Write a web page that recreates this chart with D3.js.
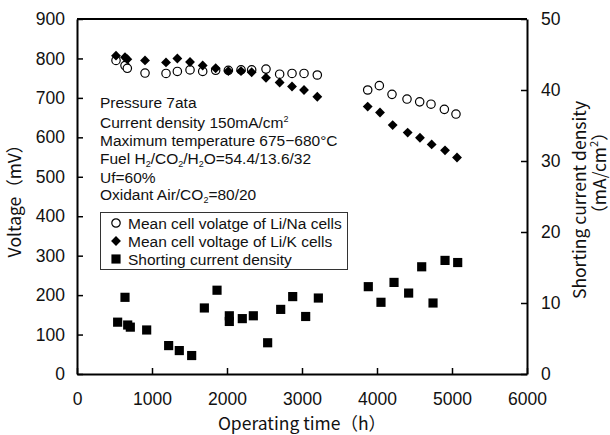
<!DOCTYPE html>
<html>
<head>
<meta charset="utf-8">
<script src="https://cdn.jsdelivr.net/npm/d3@7"></script>
<style>
  html, body { margin: 0; padding: 0; background: #fff; }
  svg { display: block; }
</style>
</head>
<body>
<svg id="chart" width="610" height="435"></svg>
<script>
// Operating time (h) and mean cell voltage (mV) of Li/Na cells
const naTime = [520, 640, 671, 907, 1187, 1338, 1507, 1676, 1849, 2018, 2187, 2329, 2520, 2702, 2867, 3027, 3204,
                3876, 4031, 4200, 4400, 4569, 4720, 4898, 5053];
const naVolt = [795, 782, 775, 763, 762, 767, 771, 767, 770, 770, 771, 771, 773, 760, 762, 762, 758,
                720, 731, 709, 697, 690, 684, 671, 659];

// Operating time (h) and mean cell voltage (mV) of Li/K cells
const kTime = [520, 640, 671, 907, 1187, 1338, 1507, 1676, 1849, 2018, 2187, 2329, 2520, 2702, 2867, 3027, 3204,
               3876, 4040, 4209, 4409, 4573, 4729, 4907, 5067];
const kVolt = [807, 803, 798, 795, 790, 800, 791, 782, 775, 768, 768, 765, 751, 739, 729, 720, 703,
               678, 663, 631, 612, 599, 582, 567, 549];

// Operating time (h) and shorting current density (mA/cm2)
const scTime = [542, 640, 676, 711, 929, 1222, 1364, 1529, 1698, 1867, 2031, 2031, 2204, 2351, 2542, 2716, 2876, 3049, 3218,
                3884, 4053, 4227, 4422, 4596, 4747, 4907, 5076];
const scVal = [7.3, 10.8, 6.9, 6.6, 6.2, 4.0, 3.3, 2.6, 9.3, 11.8, 8.2, 7.4, 7.8, 8.2, 4.4, 9.1, 10.9, 8.1, 10.7,
               12.3, 10.1, 12.9, 11.4, 15.1, 10.0, 16.0, 15.7];

const xTicks = [0, 1000, 2000, 3000, 4000, 5000, 6000];
const yTicks = [0, 100, 200, 300, 400, 500, 600, 700, 800, 900];
const y2Ticks = [0, 10, 20, 30, 40, 50];

const legendItems = [
  { shape: "circle", label: "Mean cell volatge of Li/Na cells" },
  { shape: "diamond", label: "Mean cell voltage of Li/K cells" },
  { shape: "square", label: "Shorting current density" }
];

const svg = d3.select("#chart");
const m = { left: 77, right: 527, top: 19, bottom: 374 };

const x = d3.scaleLinear().domain([0, 6000]).range([m.left, m.right]);
const y = d3.scaleLinear().domain([0, 900]).range([m.bottom, m.top]);
const y2 = d3.scaleLinear().domain([0, 50]).range([m.bottom, m.top]);

const numFont = "'Liberation Sans', Arial, sans-serif";
const jpFont = "'Noto Sans CJK JP', 'Noto Sans', sans-serif";

// Axes with inward ticks
const axisStyle = g => {
  g.selectAll("path.domain").attr("stroke", "#000").attr("stroke-width", 2);
  g.selectAll(".tick line").attr("stroke", "#000").attr("stroke-width", 1.5);
  g.selectAll(".tick text").attr("fill", "#111").style("font-family", numFont).style("font-size", "17.5px");
};

svg.append("g")
  .attr("transform", `translate(0,${m.bottom})`)
  .call(d3.axisBottom(x).tickValues(xTicks).tickFormat(d3.format("d")).tickSizeInner(-6).tickSizeOuter(0).tickPadding(19))
  .call(axisStyle);

svg.append("g")
  .attr("transform", `translate(${m.left},0)`)
  .call(d3.axisLeft(y).tickValues(yTicks).tickFormat(d3.format("d")).tickSizeInner(-6).tickSizeOuter(0).tickPadding(12))
  .call(axisStyle);

svg.append("g")
  .attr("transform", `translate(${m.right},0)`)
  .call(d3.axisRight(y2).tickValues(y2Ticks).tickFormat(d3.format("d")).tickSizeInner(-6).tickSizeOuter(0).tickPadding(14))
  .call(axisStyle);

// Top frame line
svg.append("line")
  .attr("x1", m.left).attr("x2", m.right).attr("y1", m.top).attr("y2", m.top)
  .attr("stroke", "#000").attr("stroke-width", 2);

// Axis titles
svg.append("text")
  .attr("transform", `translate(16,${(m.top + m.bottom) / 2}) rotate(-90)`)
  .attr("text-anchor", "middle").attr("dominant-baseline", "middle")
  .style("font-family", jpFont).style("font-size", "17.5px").attr("fill", "#111")
  .text("Voltage（mV）");

svg.append("text")
  .attr("x", (m.left + m.right) / 2).attr("y", 425)
  .attr("text-anchor", "middle").attr("dominant-baseline", "middle")
  .style("font-family", jpFont).style("font-size", "17.5px").attr("fill", "#111")
  .text("Operating time（h）");

svg.append("text")
  .attr("transform", `translate(581,200) rotate(-90)`)
  .attr("text-anchor", "middle").attr("dominant-baseline", "middle")
  .style("font-family", jpFont).style("font-size", "17.5px").attr("fill", "#111")
  .text("Shorting current density");

const unit = svg.append("text")
  .attr("transform", `translate(601,173) rotate(-90)`)
  .attr("text-anchor", "middle").attr("dominant-baseline", "middle")
  .style("font-family", jpFont).style("font-size", "17.5px").attr("fill", "#111");
unit.append("tspan").text("（mA/cm");
unit.append("tspan").attr("dy", -6).style("font-size", "11px").text("2");
unit.append("tspan").attr("dy", 6).text("）");

// Data markers
const diamond = d3.symbol().type(d3.symbolDiamond2).size(62);
const square = d3.symbol().type(d3.symbolSquare).size(84);

svg.append("g").selectAll("circle")
  .data(d3.zip(naTime, naVolt))
  .join("circle")
  .attr("cx", d => x(d[0])).attr("cy", d => y(d[1])).attr("r", 4.2)
  .attr("fill", "#fff").attr("stroke", "#000").attr("stroke-width", 1.2);

svg.append("g").selectAll("path")
  .data(d3.zip(kTime, kVolt))
  .join("path")
  .attr("transform", d => `translate(${x(d[0])},${y(d[1])})`)
  .attr("d", diamond).attr("fill", "#000");

svg.append("g").selectAll("path")
  .data(d3.zip(scTime, scVal))
  .join("path")
  .attr("transform", d => `translate(${x(d[0])},${y2(d[1])})`)
  .attr("d", square).attr("fill", "#000");

// Operating conditions; each part is plain text, a subscript or a superscript
const notes = svg.append("g")
  .style("font-family", numFont).style("font-size", "15.5px").attr("fill", "#111");

function noteLine(yPos, parts) {
  const t = notes.append("text").attr("x", 100).attr("y", yPos);
  let shift = 0; // current baseline offset, undone on the next plain part
  parts.forEach(p => {
    if (p.sub || p.sup) {
      const off = p.sub ? 3 : -6;
      t.append("tspan").attr("dy", off - shift).style("font-size", "9px").text(p.sub || p.sup);
      shift = off;
    } else {
      t.append("tspan").attr("dy", -shift).text(p.t);
      shift = 0;
    }
  });
}

noteLine(108, [{ t: "Pressure 7ata" }]);
noteLine(128, [{ t: "Current density 150mA/cm" }, { sup: "2" }]);
noteLine(146, [{ t: "Maximum temperature 675−680°C" }]);
noteLine(164, [{ t: "Fuel H" }, { sub: "2" }, { t: "/CO" }, { sub: "2" }, { t: "/H" }, { sub: "2" }, { t: "O=54.4/13.6/32" }]);
noteLine(183, [{ t: "Uf=60%" }]);
noteLine(200, [{ t: "Oxidant Air/CO" }, { sub: "2" }, { t: "=80/20" }]);

// Legend
const lg = svg.append("g");
lg.append("rect")
  .attr("x", 100.5).attr("y", 212.5).attr("width", 247).attr("height", 57)
  .attr("fill", "#fff").attr("stroke", "#333").attr("stroke-width", 1);

const rows = lg.selectAll("g.row")
  .data(legendItems)
  .join("g")
  .attr("transform", (d, i) => `translate(116,${223 + i * 18})`);

rows.each(function (d) {
  const g = d3.select(this);
  if (d.shape === "circle") {
    g.append("circle").attr("r", 4.2).attr("fill", "#fff").attr("stroke", "#000").attr("stroke-width", 1.2);
  } else if (d.shape === "diamond") {
    g.append("path").attr("d", diamond).attr("fill", "#000");
  } else {
    g.append("path").attr("d", square).attr("fill", "#000");
  }
  g.append("text")
    .attr("x", 12).attr("y", 0).attr("dominant-baseline", "central")
    .style("font-family", numFont).style("font-size", "15.5px").attr("fill", "#111")
    .text(d.label);
});
</script>
</body>
</html>
